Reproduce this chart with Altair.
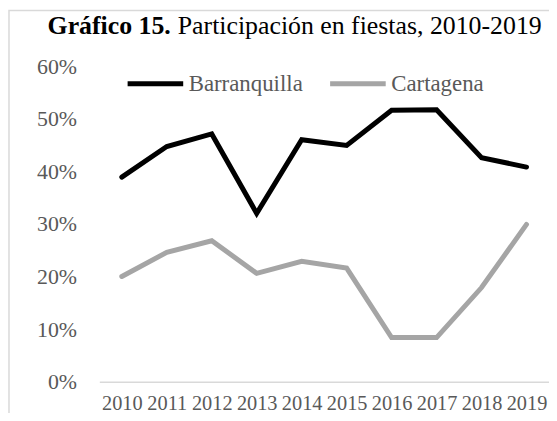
import altair as alt
import pandas as pd

years = ["2010", "2011", "2012", "2013", "2014", "2015", "2016", "2017", "2018", "2019"]
barranquilla = [0.389, 0.447, 0.471, 0.320, 0.460, 0.449, 0.516, 0.517, 0.426, 0.408]
cartagena = [0.200, 0.246, 0.268, 0.206, 0.229, 0.216, 0.084, 0.084, 0.179, 0.299]
series = ["Barranquilla", "Cartagena"]
colors = ["#000000", "#a5a5a5"]
title_bold = "Gráfico 15."
title_rest = "Participación en fiestas, 2010-2019"

rows = []
for name, vals in zip(series, [barranquilla, cartagena]):
    for y, v in zip(years, vals):
        rows.append({"year": y, "value": v, "serie": name})
df = pd.DataFrame(rows)

FONT = "Liberation Serif"
GREY = "#595959"

lines = alt.Chart(df).mark_line(strokeWidth=5, strokeCap="round", strokeJoin="miter").encode(
    x=alt.X("year:O", sort=years, title=None,
            scale=alt.Scale(paddingInner=0, paddingOuter=0, align=0.5),
            axis=alt.Axis(labelAngle=0, ticks=False, domainColor="#d9d9d9", domainWidth=1.5,
                          labelFont=FONT, labelFontSize=20.5, labelColor=GREY, labelPadding=12,
                          grid=False)),
    y=alt.Y("value:Q", title=None,
            scale=alt.Scale(domain=[0, 0.6], nice=False),
            axis=alt.Axis(values=[0, 0.1, 0.2, 0.3, 0.4, 0.5, 0.6], format=".0%", ticks=False,
                          domain=False, grid=False, labelFont=FONT, labelFontSize=22,
                          labelColor=GREY, labelPadding=23)),
    color=alt.Color("serie:N", scale=alt.Scale(domain=series, range=colors),
                    legend=alt.Legend(orient="none", legendX=26, legendY=-13, direction="horizontal",
                                      title=None, symbolType="stroke", symbolSize=3136,
                                      symbolStrokeWidth=5, labelFont=FONT, labelFontSize=23,
                                      labelColor=GREY, labelOffset=3, columnPadding=17,
                                      padding=0)),
)

t1 = alt.Chart(pd.DataFrame({"t": [title_bold]})).mark_text(
    font=FONT, fontSize=26, fontWeight="bold", align="right", baseline="middle", color="#000000"
).encode(text="t:N", x=alt.value(72), y=alt.value(-40))

t2 = alt.Chart(pd.DataFrame({"t": [title_rest]})).mark_text(
    font=FONT, fontSize=26, align="left", baseline="middle", color="#000000"
).encode(text="t:N", x=alt.value(79), y=alt.value(-40))

border = alt.Chart(pd.DataFrame({"t": [0]})).mark_rect(
    filled=False, stroke="#d9d9d9", strokeWidth=1.5
).encode(x=alt.value(-91), x2=alt.value(480), y=alt.value(-56), y2=alt.value(400))

chart = alt.layer(border, lines, t1, t2).properties(
    width=453, height=318,
    autosize=alt.AutoSizeParams(type="none"),
    padding={"left": 92, "top": 57, "right": 0, "bottom": 30},
).configure_view(stroke=None)

chart.save("out.html", embed_options={"renderer": "svg", "actions": False})
